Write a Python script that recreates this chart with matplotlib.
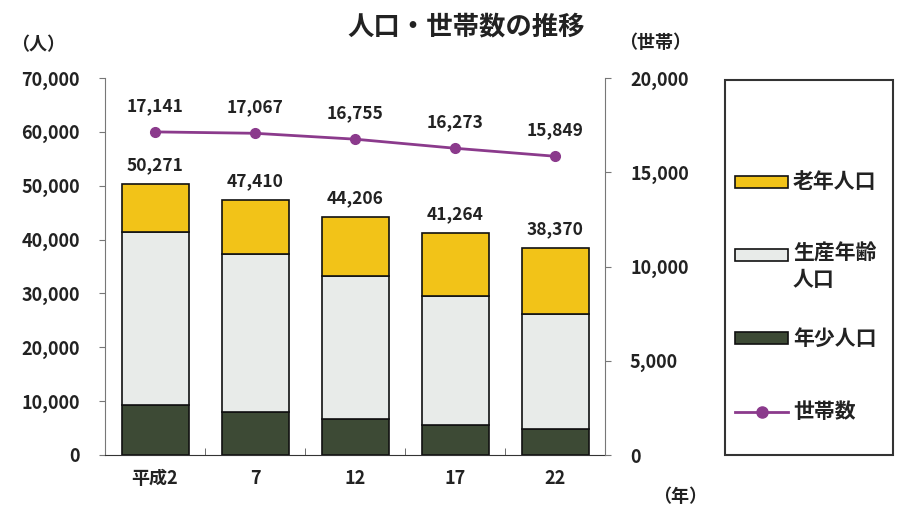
import matplotlib
matplotlib.use("Agg")
import matplotlib.pyplot as plt
from matplotlib.patches import Rectangle
from matplotlib.lines import Line2D
import numpy as np

plt.rcParams['font.family'] = ['Noto Sans CJK JP', 'DejaVu Sans']

categories = ['平成2', '7', '12', '17', '22']
young = [9300, 7900, 6650, 5550, 4800]
working = [32150, 29450, 26500, 24000, 21300]
totals = [50271, 47410, 44206, 41264, 38370]
elderly = [t - y - w for t, y, w in zip(totals, young, working)]
households = [17141, 17067, 16755, 16273, 15849]
legend_labels = ['老年人口', '生産年齢\n人口', '年少人口', '世帯数']

c_young = '#3d4a35'
c_work = '#e8ebe9'
c_old = '#f2c318'
c_line = '#8b3a8c'
txt = '#222222'

W, H = 901, 515
fig = plt.figure(figsize=(W / 100, H / 100), dpi=100)


def fx(px):
    return px / W


def fy(py):
    return 1 - py / H


ax = fig.add_axes([fx(105), fy(455), 500 / W, 377 / H])
x = np.arange(len(categories))
w = 0.67
ax.bar(x, young, w, color=c_young, edgecolor='#111111', linewidth=1.2)
ax.bar(x, working, w, bottom=young, color=c_work, edgecolor='#111111', linewidth=1.2)
bot2 = [a + b for a, b in zip(young, working)]
ax.bar(x, elderly, w, bottom=bot2, color=c_old, edgecolor='#111111', linewidth=1.2)
for xi, t in zip(x, totals):
    ax.text(xi, t + 1800, f'{t:,}', ha='center', va='bottom', fontsize=12.5, fontweight='bold', color=txt)

ax.set_xlim(-0.5, len(categories) - 0.5)
ax.set_ylim(0, 70000)
ax.set_yticks(range(0, 70001, 10000))
ax.set_yticklabels([f'{v:,}' for v in range(0, 70001, 10000)], fontsize=13, fontweight='bold', color=txt)
ax.set_xticks(x)
ax.set_xticklabels(categories, fontsize=13, fontweight='bold', color=txt)
ax.tick_params(axis='x', which='major', length=0, pad=10)
ax.set_xticks(np.arange(-0.5, len(categories), 1), minor=True)
ax.tick_params(axis='x', which='minor', length=5, color='#555555', direction='in')
ax.tick_params(axis='y', length=4, color='#777777', pad=14)
for s in ['top', 'right']:
    ax.spines[s].set_visible(False)
ax.spines['left'].set_color('#777777')
ax.spines['bottom'].set_color('#333333')

ax2 = ax.twinx()
ax2.set_ylim(0, 20000)
ax2.plot(x, households, color=c_line, linewidth=2, marker='o', markersize=7)
for xi, h in zip(x, households):
    ax2.text(xi, h + 900, f'{h:,}', ha='center', va='bottom', fontsize=12.5, fontweight='bold', color=txt)
ax2.set_yticks(range(0, 20001, 5000))
ax2.set_yticklabels([f'{v:,}' for v in range(0, 20001, 5000)], fontsize=13, fontweight='bold', color=txt)
ax2.tick_params(axis='y', length=4, color='#777777', pad=14)
for s in ['top', 'left', 'bottom']:
    ax2.spines[s].set_visible(False)
ax2.spines['right'].set_color('#777777')

fig.text(fx(466), fy(27), '人口・世帯数の推移', ha='center', va='center', fontsize=19, fontweight='bold', color=txt)
fig.text(fx(38), fy(45), '（人）', ha='center', va='center', fontsize=13, fontweight='bold', color=txt)
fig.text(fx(655), fy(42), '（世帯）', ha='center', va='center', fontsize=13, fontweight='bold', color=txt)
fig.text(fx(680), fy(497), '（年）', ha='center', va='center', fontsize=13, fontweight='bold', color=txt)

# legend box
fig.patches.append(Rectangle((fx(725), fy(455)), 168 / W, 375 / H, transform=fig.transFigure,
                             facecolor='white', edgecolor='#333333', linewidth=1.5))
hx0, hx1, hh = 735, 788, 12
legend_colors = [c_old, c_work, c_young]
patch_rows = [182, 255, 338]
for yc, col in zip(patch_rows, legend_colors):
    fig.patches.append(Rectangle((fx(hx0), fy(yc + hh / 2)), (hx1 - hx0) / W, hh / H,
                                 transform=fig.transFigure, facecolor=col,
                                 edgecolor='#111111', linewidth=1.2))
fig.lines.append(Line2D([fx(hx0), fx(hx1)], [fy(412), fy(412)], transform=fig.transFigure,
                        color=c_line, linewidth=2))
fig.lines.append(Line2D([fx((hx0 + hx1) / 2)], [fy(412)], transform=fig.transFigure,
                        color=c_line, marker='o', markersize=8, linestyle='none'))

fig.text(fx(793), fy(182), legend_labels[0], ha='left', va='center', fontsize=15, fontweight='bold', color=txt)
fig.text(fx(793), fy(243), legend_labels[1], ha='left', va='top', fontsize=15, fontweight='bold', color=txt, linespacing=1.3)
fig.text(fx(793), fy(338), legend_labels[2], ha='left', va='center', fontsize=15, fontweight='bold', color=txt)
fig.text(fx(793), fy(412), legend_labels[3], ha='left', va='center', fontsize=15, fontweight='bold', color=txt)

fig.savefig('out.png', dpi=100)
